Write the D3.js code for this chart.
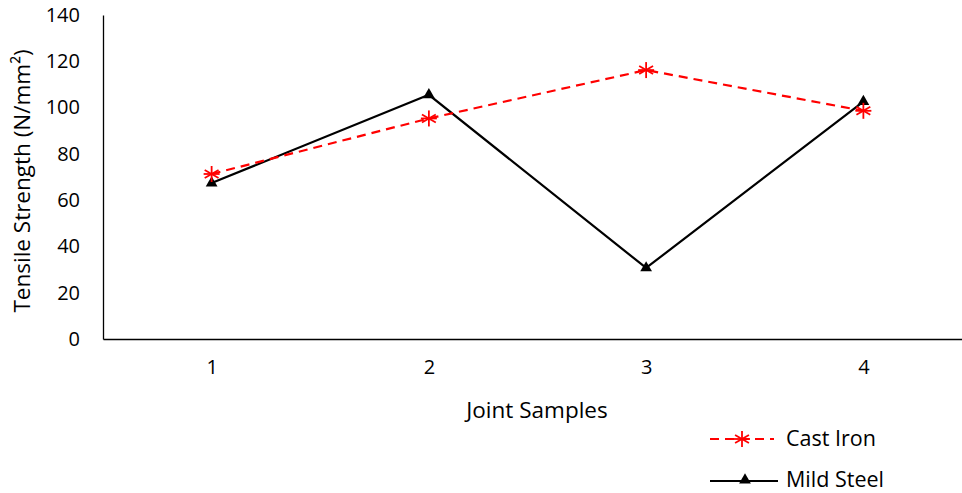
<!DOCTYPE html>
<html>
<head>
<meta charset="utf-8">
<script src="https://cdn.jsdelivr.net/npm/d3@7"></script>
<style>
  body { margin: 0; background: #fff; }
  text { font-family: "Open Sans", "Liberation Sans", sans-serif; fill: #000; }
</style>
</head>
<body>
<div class="graphe"></div>
<script>
"use strict";

var samples = ["1", "2", "3", "4"]; // joint samples
var castIron = [71.3, 95.3, 116.2, 98.6]; // N/mm2
var mildSteel = [67.4, 105.5, 30.7, 102.6]; // N/mm2
var yTicks = [0, 20, 40, 60, 80, 100, 120, 140];

var larg = 962; // largeur
var haut = 493; // hauteur
var gauche = 103, droite = 972, hautY = 15, basY = 339;

var svg = d3.select(".graphe")
  .append("svg")
  .attr("width", larg)
  .attr("height", haut);

var x = d3.scalePoint().domain(samples).range([gauche, droite]).padding(0.5);
var y = d3.scaleLinear().domain([0, 140]).range([basY, hautY]);

// axe des y
var axeY = svg.append("g")
  .attr("transform", "translate(" + gauche + ",0)")
  .call(d3.axisLeft(y).tickValues(yTicks).tickSize(0).tickPadding(23));
axeY.select(".domain").attr("stroke", "#000").attr("stroke-width", 1.3);
axeY.selectAll("text").attr("font-size", "20px").attr("font-family", null);

// axe des x
var axeX = svg.append("g")
  .attr("transform", "translate(0," + basY + ")")
  .call(d3.axisBottom(x).tickSize(0).tickPadding(21));
axeX.select(".domain").attr("stroke", "#000").attr("stroke-width", 1.3);
axeX.selectAll("text").attr("font-size", "20px").attr("font-family", null);

// titres
svg.append("text")
  .attr("transform", "translate(30," + ((hautY + basY) / 2 + 4) + ") rotate(-90)")
  .attr("text-anchor", "middle")
  .attr("font-size", "22.5px")
  .text("Tensile Strength (N/mm²)");

svg.append("text")
  .attr("x", 537).attr("y", 418)
  .attr("text-anchor", "middle")
  .attr("font-size", "22.5px")
  .text("Joint Samples");

var ligne = d3.line()
  .x(function(d, i){ return x(samples[i]); })
  .y(function(d){ return y(d); });

// Mild Steel
svg.append("path")
  .datum(mildSteel)
  .attr("d", ligne)
  .attr("fill", "none")
  .attr("stroke", "#000")
  .attr("stroke-width", 2.2);

// Cast Iron
svg.append("path")
  .datum(castIron)
  .attr("d", ligne)
  .attr("fill", "none")
  .attr("stroke", "#ff0000")
  .attr("stroke-width", 2.2)
  .attr("stroke-dasharray", "9,6");

var triangle = d3.symbol().type(d3.symbolTriangle).size(60);

function etoile(g, cx, cy){
  var r = 8;
  var angles = [90, 30, 150];
  angles.forEach(function(a){
    var rad = a * Math.PI / 180;
    g.append("line")
      .attr("x1", cx - r * Math.cos(rad)).attr("y1", cy - r * Math.sin(rad))
      .attr("x2", cx + r * Math.cos(rad)).attr("y2", cy + r * Math.sin(rad))
      .attr("stroke", "#ff0000").attr("stroke-width", 1.8);
  });
  g.append("line")
    .attr("x1", cx - r).attr("y1", cy).attr("x2", cx + r).attr("y2", cy)
    .attr("stroke", "#ff0000").attr("stroke-width", 1.8);
}

svg.selectAll("path.ms")
  .data(mildSteel)
  .enter()
  .append("path")
  .attr("class", "ms")
  .attr("d", triangle)
  .attr("fill", "#000")
  .attr("transform", function(d, i){ return "translate(" + x(samples[i]) + "," + y(d) + ")"; });

var marques = svg.append("g");
castIron.forEach(function(d, i){ etoile(marques, x(samples[i]), y(d)); });

// legende
var leg = svg.append("g");
leg.append("line")
  .attr("x1", 710).attr("x2", 774).attr("y1", 439).attr("y2", 439)
  .attr("stroke", "#ff0000").attr("stroke-width", 2.2).attr("stroke-dasharray", "9,6");
etoile(leg, 742, 439);
leg.append("text").attr("x", 786).attr("y", 446).attr("font-size", "21.5px").text("Cast Iron");

leg.append("line")
  .attr("x1", 710).attr("x2", 778).attr("y1", 481).attr("y2", 481)
  .attr("stroke", "#000").attr("stroke-width", 2.2);
leg.append("path").attr("d", triangle).attr("fill", "#000")
  .attr("transform", "translate(745,480)");
leg.append("text").attr("x", 786).attr("y", 487).attr("font-size", "21.5px").text("Mild Steel");
</script>
</body>
</html>
